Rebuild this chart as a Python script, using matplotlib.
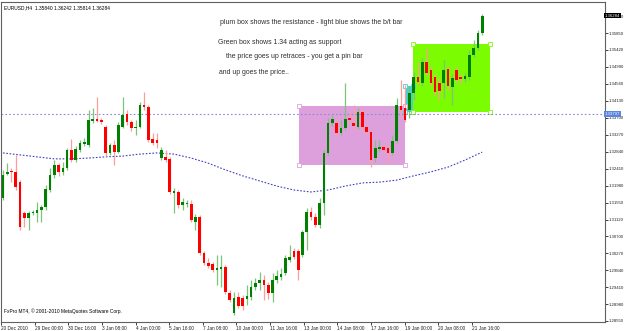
import numpy as np
import matplotlib
matplotlib.use("Agg")
import matplotlib.pyplot as plt
from matplotlib.patches import Rectangle

# EURUSD H4 candles (oldest first)
opens = [1.3167, 1.3228, 1.3235, 1.3233, 1.3207, 1.3129, 1.3116, 1.3129, 1.3129, 1.3136,
         1.3144, 1.3187, 1.3225, 1.3250, 1.3233, 1.3243, 1.3289, 1.3263, 1.3289, 1.3304,
         1.3301, 1.3362, 1.3367, 1.3365, 1.3347, 1.3281, 1.3301, 1.3283, 1.3347, 1.3380,
         1.3359, 1.3344, 1.3347, 1.3403, 1.3398, 1.3316, 1.3314, 1.3268, 1.3271, 1.3266,
         1.3179, 1.3182, 1.3149, 1.3152, 1.3152, 1.3106, 1.3119, 1.3027, 1.3002, 1.3000,
         1.2984, 1.2987, 1.2992, 1.2926, 1.2875, 1.2916, 1.2914, 1.2911, 1.2916, 1.2941,
         1.2951, 1.2959, 1.2946, 1.2926, 1.2959, 1.2967, 1.2977, 1.3010, 1.3032, 1.3032,
         1.3022, 1.3081, 1.3131, 1.3119, 1.3098, 1.3154, 1.3281, 1.3357, 1.3357, 1.3332,
         1.3344, 1.3370, 1.3357, 1.3347, 1.3385, 1.3347, 1.3334, 1.3268, 1.3291, 1.3296,
         1.3294, 1.3281, 1.3311, 1.3400, 1.3395, 1.3390, 1.3433, 1.3474, 1.3458, 1.3512,
         1.3491, 1.3474, 1.3458, 1.3458, 1.3494, 1.3448, 1.3491, 1.3474, 1.3468, 1.3474,
         1.3529, 1.3547, 1.3585]
closes = [1.3225, 1.3233, 1.3233, 1.3195, 1.3093, 1.3116, 1.3129, 1.3131, 1.3136, 1.3144,
          1.3190, 1.3225, 1.3250, 1.3233, 1.3243, 1.3289, 1.3263, 1.3291, 1.3306, 1.3309,
          1.3365, 1.3367, 1.3362, 1.3359, 1.3281, 1.3301, 1.3283, 1.3352, 1.3377, 1.3359,
          1.3344, 1.3347, 1.3403, 1.3398, 1.3314, 1.3306, 1.3306, 1.3289, 1.3263, 1.3182,
          1.3185, 1.3149, 1.3157, 1.3154, 1.3111, 1.3119, 1.3027, 1.3002, 1.2995, 1.2984,
          1.2990, 1.2992, 1.2929, 1.2908, 1.2914, 1.2893, 1.2893, 1.2919, 1.2941, 1.2951,
          1.2959, 1.2946, 1.2926, 1.2959, 1.2969, 1.2974, 1.3014, 1.3017, 1.3017, 1.2984,
          1.3081, 1.3131, 1.3119, 1.3098, 1.3154, 1.3281, 1.3357, 1.3367, 1.3332, 1.3344,
          1.3367, 1.3365, 1.3349, 1.3385, 1.3347, 1.3334, 1.3263, 1.3294, 1.3296, 1.3289,
          1.3281, 1.3311, 1.3403, 1.3390, 1.3365, 1.3433, 1.3474, 1.3461, 1.3512, 1.3484,
          1.3458, 1.3436, 1.3438, 1.3491, 1.3451, 1.3471, 1.3466, 1.3468, 1.3476, 1.3529,
          1.3547, 1.3585, 1.3628]
highs = [1.3238, 1.3255, 1.3243, 1.3276, 1.3212, 1.3134, 1.3134, 1.3136, 1.3157, 1.3149,
         1.3200, 1.3243, 1.3263, 1.3255, 1.3258, 1.3294, 1.3316, 1.3299, 1.3314, 1.3319,
         1.3390, 1.3395, 1.3423, 1.3370, 1.3352, 1.3306, 1.3314, 1.3359, 1.3423, 1.3390,
         1.3365, 1.3365, 1.3410, 1.3436, 1.3403, 1.3332, 1.3332, 1.3296, 1.3289, 1.3271,
         1.3192, 1.3187, 1.3167, 1.3162, 1.3162, 1.3126, 1.3124, 1.3032, 1.3014, 1.3005,
         1.3022, 1.3022, 1.2997, 1.2934, 1.2929, 1.2929, 1.2921, 1.2946, 1.2959, 1.2964,
         1.2979, 1.2972, 1.2954, 1.2977, 1.2984, 1.2990, 1.3022, 1.3048, 1.3040, 1.3037,
         1.3086, 1.3141, 1.3144, 1.3129, 1.3167, 1.3289, 1.3370, 1.3377, 1.3370, 1.3365,
         1.3458, 1.3385, 1.3403, 1.3395, 1.3395, 1.3352, 1.3339, 1.3314, 1.3314, 1.3301,
         1.3304, 1.3326, 1.3420, 1.3466, 1.3453, 1.3448, 1.3486, 1.3512, 1.3522, 1.3547,
         1.3501, 1.3481, 1.3471, 1.3517, 1.3501, 1.3481, 1.3499, 1.3481, 1.3484, 1.3542,
         1.3567, 1.3593, 1.3633]
lows = [1.3162, 1.3225, 1.3207, 1.3187, 1.3086, 1.3093, 1.3086, 1.3124, 1.3106, 1.3106,
        1.3136, 1.3182, 1.3218, 1.3223, 1.3225, 1.3238, 1.3258, 1.3258, 1.3283, 1.3299,
        1.3296, 1.3357, 1.3359, 1.3354, 1.3273, 1.3276, 1.3250, 1.3281, 1.3344, 1.3352,
        1.3337, 1.3326, 1.3344, 1.3390, 1.3309, 1.3301, 1.3294, 1.3263, 1.3258, 1.3177,
        1.3129, 1.3141, 1.3136, 1.3144, 1.3106, 1.3086, 1.3022, 1.2997, 1.2990, 1.2979,
        1.2946, 1.2941, 1.2924, 1.2903, 1.2870, 1.2888, 1.2883, 1.2895, 1.2908, 1.2934,
        1.2934, 1.2908, 1.2911, 1.2903, 1.2951, 1.2959, 1.2972, 1.3005, 1.3012, 1.2959,
        1.3017, 1.3035, 1.3111, 1.3093, 1.3091, 1.3124, 1.3276, 1.3349, 1.3324, 1.3326,
        1.3339, 1.3357, 1.3339, 1.3342, 1.3339, 1.3326, 1.3245, 1.3258, 1.3283, 1.3281,
        1.3255, 1.3276, 1.3306, 1.3377, 1.3359, 1.3370, 1.3415, 1.3453, 1.3451, 1.3476,
        1.3451, 1.3428, 1.3415, 1.3420, 1.3441, 1.3403, 1.3458, 1.3456, 1.3461, 1.3466,
        1.3524, 1.3542, 1.3580]

# moving average (blue dotted), one reading every 4th bar
ma_step = 4
ma_values = [1.3281, 1.3276, 1.3271, 1.3266, 1.3266, 1.3268, 1.3271, 1.3273, 1.3278, 1.3281,
             1.3278, 1.3268, 1.3255, 1.3238, 1.3223, 1.3210, 1.3197, 1.3187, 1.3182, 1.3187,
             1.3197, 1.3205, 1.3207, 1.3212, 1.3223, 1.3233, 1.3245, 1.3263, 1.3283]

price_ticks = [1.36280, 1.35850, 1.35420, 1.34990, 1.34560, 1.34130, 1.33700, 1.33270,
               1.32840, 1.32410, 1.31980, 1.31550, 1.31120, 1.30700, 1.30270, 1.29840,
               1.29410, 1.28980, 1.28550]
time_labels = ["20 Dec 2010", "29 Dec 00:00", "30 Dec 16:00", "3 Jan 08:00", "4 Jan 00:00",
               "5 Jan 16:00", "7 Jan 08:00", "10 Jan 00:00", "11 Jan 16:00", "13 Jan 00:00",
               "14 Jan 08:00", "17 Jan 16:00", "19 Jan 00:00", "20 Jan 08:00", "21 Jan 16:00"]
label_every = 7.86  # bars between time labels

# boxes drawn on the chart: (bar from, bar to, price low, price high)
plum_box = (69.1, 94.0, 1.3250, 1.3400)
blue_box = (94.0, 95.9, 1.3385, 1.3451)
green_box = (95.9, 113.9, 1.3385, 1.3557)
hline_price = 1.33797
last_price = 1.36284

notes = ["plum box shows the resistance - light blue shows the b/t bar",
         "Green box shows 1.34 acting as support",
         "the price goes up retraces - you get a pin bar",
         "and up goes the price.."]

FONT = ["Liberation Sans", "DejaVu Sans"]

fig = plt.figure(figsize=(6.25, 3.31), dpi=100)
ax = fig.add_axes([1 / 625, 9 / 331, 604 / 625, 320 / 331])
ax.set_facecolor("white")

x = np.arange(len(opens))
o = np.array(opens); c = np.array(closes)
h = np.array(highs); l = np.array(lows)
up = c >= o

# boxes behind the candles
for (x0, x1, p0, p1), col in [(plum_box, "#dda0dd"), (blue_box, "#48d1cc"), (green_box, "#7cfc00")]:
    ax.add_patch(Rectangle((x0, p0), x1 - x0, p1 - p0, facecolor=col, edgecolor="none", zorder=1))
    for cx in (x0, x1):
        for cy in (p0, p1):
            ax.plot(cx, cy, marker="s", ms=2.2, mfc="white", mec=col, mew=0.6, zorder=2)

ax.axhline(hline_price, color="#8a8ad8", lw=0.8, ls=(0, (1.5, 2)), zorder=2)

ma_x = np.arange(len(ma_values)) * ma_step
ax.plot(ma_x, ma_values, color="#4040c0", lw=0.8, ls=(0, (1.5, 1.5)), zorder=2)

# candles
ax.vlines(x[up], l[up], h[up], color="#7cc47c", lw=0.9, zorder=3)
ax.vlines(x[~up], l[~up], h[~up], color="#ff9c9c", lw=0.9, zorder=3)
min_body = 0.00015
body = np.maximum(np.abs(c - o), min_body)
ax.bar(x[up], body[up], bottom=np.minimum(o, c)[up], width=0.62, color="#008000", zorder=4)
ax.bar(x[~up], body[~up], bottom=np.minimum(o, c)[~up], width=0.62, color="#ff0000", zorder=4)

ax.set_xlim(-0.23, 140.7)
ax.set_ylim(1.28524, 1.36636)

# price scale on the right
ax.yaxis.tick_right()
ax.set_yticks(price_ticks)
ax.set_yticklabels([f"{p:.5f}" for p in price_ticks], fontsize=3.1, family=FONT, color="#202020")
ax.tick_params(axis="y", length=2, width=0.6, pad=0.6, colors="#202020")

# time scale
tpos = np.arange(len(time_labels)) * label_every - 0.45
ax.set_xticks(tpos)
ax.set_xticklabels(time_labels, fontsize=3.4, family=FONT, ha="left", color="#202020")
ax.tick_params(axis="x", length=2, width=0.6, pad=1, colors="#202020")

for s in ax.spines.values():
    s.set_linewidth(0.8)
    s.set_color("#606060")

# price labels on the scale
for price, fc in [(hline_price, "#5a84e0"), (last_price, "black")]:
    ax.text(1.0, price, f"{price:.5f}", transform=ax.get_yaxis_transform(),
            fontsize=3.1, family=FONT, color="white", va="center", ha="left",
            bbox=dict(boxstyle="square,pad=0.12", fc=fc, ec="none"), zorder=6, clip_on=False)

# header and footer
ax.text(0.005, 0.99, "EURUSD,H4  1.35840 1.36242 1.35814 1.36284", transform=ax.transAxes,
        fontsize=3.5, family=FONT, va="top", ha="left", color="black")
ax.text(0.005, 0.025, "FxPro MT4, \u00a9 2001-2010 MetaQuotes Software Corp.", transform=ax.transAxes,
        fontsize=3.5, family=FONT, va="bottom", ha="left", color="black")

# the notes written on the chart
note_pos = [(220, 22), (218, 42), (226, 57), (219, 72)]
for t, (px, py) in zip(notes, note_pos):
    fig.text(px / 625, 1 - py / 331, t, fontsize=4.95, family=FONT, color="#303030",
             va="center", ha="left")

fig.savefig("out.png", dpi=100)
